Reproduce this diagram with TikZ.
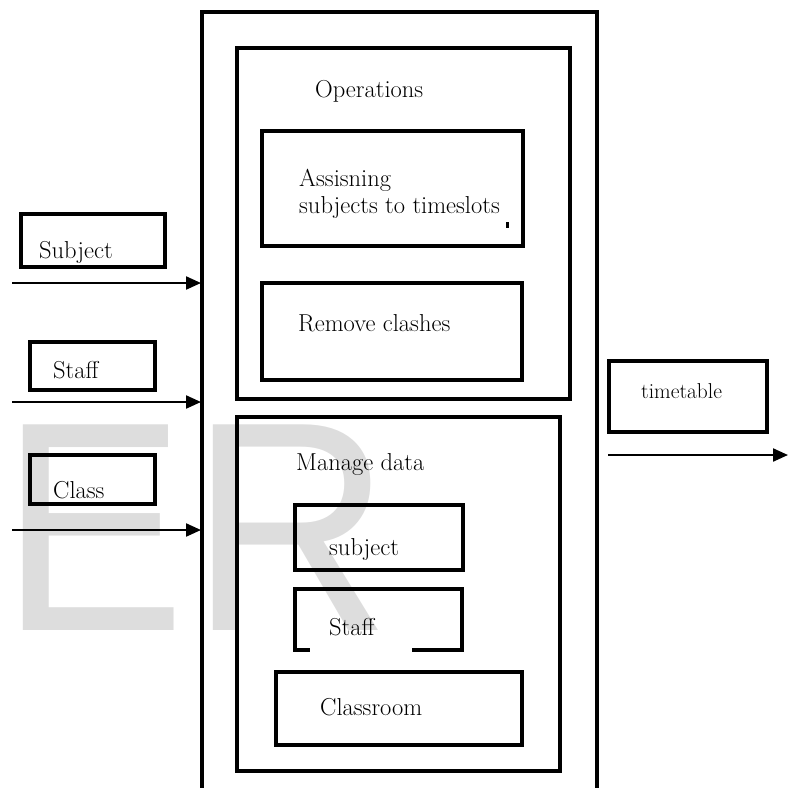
\documentclass[tikz,border=0pt]{standalone}
\usepackage{fontspec}
\newfontfamily\wmfont{Liberation Sans}
\usetikzlibrary{arrows.meta}
\definecolor{wmgray}{HTML}{DDDDDD}
\tikzset{
  box/.style={draw, line width=3.4pt, inner sep=0pt},
  lbl/.style={anchor=base west, inner sep=0pt, font=\fontsize{24.5}{28}\selectfont},
  smalllbl/.style={anchor=base west, inner sep=0pt, font=\fontsize{21.5}{25}\selectfont},
  wm/.style={anchor=base west, inner sep=0pt, text=wmgray, font=\wmfont\fontsize{299}{299}\selectfont},
  flow/.style={line width=2.2pt, -{Triangle[length=15pt,width=13pt]}},
}
\newcommand{\boxat}[5]{% name, x1, y1, x2, y2
  \node[box, minimum width={(#4)-(#2)}, minimum height={(#5)-(#3)}] (#1) at ({((#2)+(#4))/2},{((#3)+(#5))/2}) {};}
\begin{document}
\begin{tikzpicture}[x=1pt,y=-1pt]
\useasboundingbox (0,0) rectangle (788,788);
% watermark
\node[wm] (wmE) at (0,630) {\scalebox{0.93}[1]{E}};
\node[wm] (wmR) at (190,630) {\scalebox{0.93}[1]{R}};
% outer system box (open at the bottom)
\coordinate (obl) at (202,788);
\coordinate (obr) at (597,788);
\draw[line width=3.2pt] (obl) |- (597,12) -- (obr);
% operations group
\boxat{ops}{237}{48}{570}{399}
\node[lbl] (opst) at (315,97) {Operations};
\boxat{assign}{262}{131}{523}{246}
\node[lbl] (asst1) at (299,186) {Assisning};
\node[lbl] (asst2) at (299,213) {subjects to timeslots};
\fill (506,222) rectangle (509,228);
\boxat{remove}{262}{283}{522}{380}
\node[lbl] (remt) at (298,331) {Remove clashes};
% manage data group
\boxat{manage}{237}{417}{560}{771}
\node[lbl] (mant) at (296,470) {Manage data};
\boxat{msubj}{295}{505}{463}{570}
\node[lbl] (msubjt) at (329,555) {subject};
\boxat{mstaff}{295}{589}{462}{650}
\fill[white] (310,648) rectangle (412,653);
\node[lbl] (mstafft) at (329,635) {Staff};
\boxat{mroom}{276}{672}{522}{745}
\node[lbl] (mroomt) at (320,715) {Classroom};
% inputs
\boxat{insubj}{21}{214}{165}{267}
\node[lbl] (insubjt) at (39,258) {Subject};
\boxat{instaff}{30}{342}{155}{390}
\node[lbl] (instafft) at (53,378) {Staff};
\boxat{inclass}{30}{455}{155}{504}
\node[lbl] (inclasst) at (53,498) {Class};
\coordinate (a1s) at (12,283);  \coordinate (a1e) at (201,283);
\coordinate (a2s) at (12,402);  \coordinate (a2e) at (201,402);
\coordinate (a3s) at (12,530);  \coordinate (a3e) at (201,530);
\draw[flow] (a1s) -- (a1e);
\draw[flow] (a2s) -- (a2e);
\draw[flow] (a3s) -- (a3e);
% output
\boxat{out}{609}{361}{767}{432}
\node[smalllbl] (outt) at (641,398) {timetable};
\coordinate (o1s) at (608,455); \coordinate (o1e) at (788,455);
\draw[flow] (o1s) -- (o1e);
\end{tikzpicture}
\end{document}
